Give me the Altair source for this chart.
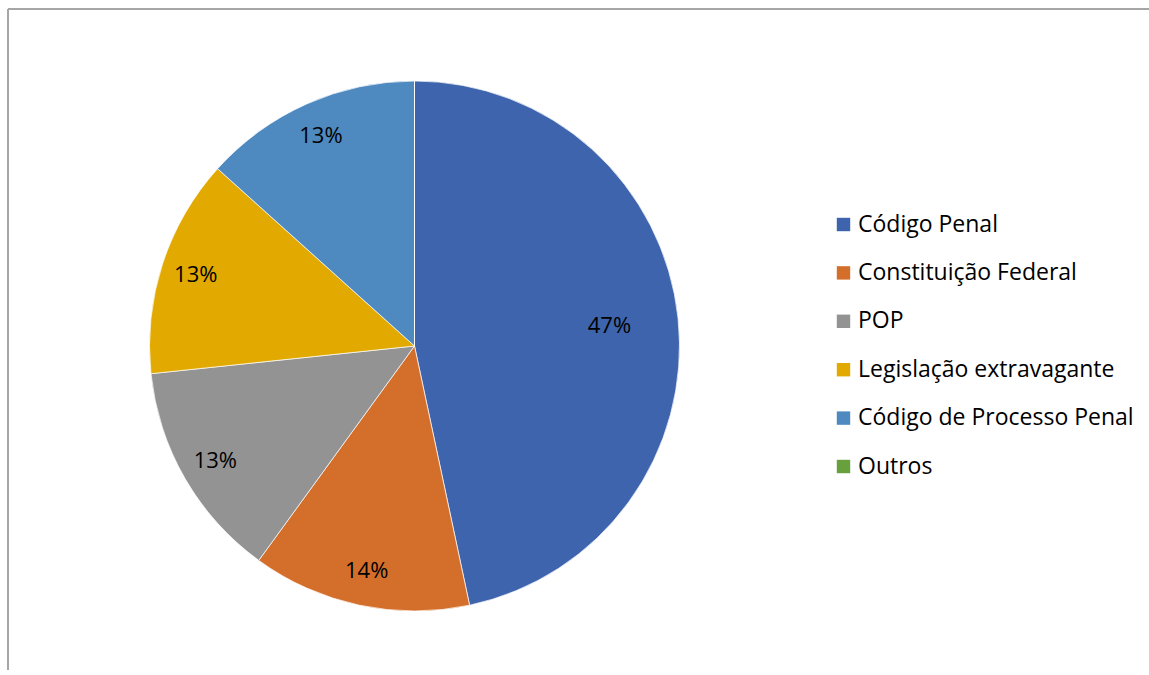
import altair as alt
import pandas as pd

categories = ["Código Penal", "Constituição Federal", "POP",
              "Legislação extravagante", "Código de Processo Penal", "Outros"]
values = [7, 2, 2, 2, 2, 0]
labels = ["47%", "14%", "13%", "13%", "13%", ""]
colors = ["#3D64AD", "#D36F2B", "#939393", "#E2AA00", "#4E8AC0", "#67A03C"]

df = pd.DataFrame({"cat": categories, "value": values, "label": labels,
                   "order": list(range(len(categories)))})

FONT = "Open Sans"
CX, CY = 406.5, 337
R = 265

base = alt.Chart(df).encode(
    theta=alt.Theta("value:Q", stack=True),
    order=alt.Order("order:Q"),
)

pie = base.mark_arc(outerRadius=R, stroke="white", strokeWidth=0.7).encode(
    x=alt.value(CX), y=alt.value(CY),
    color=alt.Color("cat:N", sort=categories,
                    scale=alt.Scale(domain=categories, range=colors),
                    legend=alt.Legend(title=None, orient="none",
                                      legendX=824, legendY=204,
                                      symbolType="square", symbolSize=180,
                                      symbolStrokeWidth=0,
                                      labelFont=FONT, labelFontSize=23,
                                      labelColor="#000000", labelOffset=3,
                                      rowPadding=24.4, padding=0,
                                      labelLimit=400)),
)

txt_outer = base.mark_text(radius=230, font=FONT, fontSize=22, color="#000000").encode(
    x=alt.value(CX), y=alt.value(CY), text="outer:N"
).transform_calculate(outer="datum.cat != 'Código Penal' ? datum.label : ''")

txt_inner = base.mark_text(radius=196, font=FONT, fontSize=22, color="#000000").encode(
    x=alt.value(CX), y=alt.value(CY), text="inner:N"
).transform_calculate(inner="datum.cat == 'Código Penal' ? datum.label : ''")

frame_top = alt.Chart(df).mark_rule(color="#A6A6A6", strokeWidth=1.5).encode(
    x=alt.value(0), x2=alt.value(1141), y=alt.value(0))
frame_left = alt.Chart(df).mark_rule(color="#A6A6A6", strokeWidth=1.5).encode(
    x=alt.value(0), y=alt.value(0), y2=alt.value(662))

chart = alt.layer(pie, txt_outer, txt_inner, frame_top, frame_left).properties(
    width=1141, height=661,
    padding={"left": 8, "top": 9, "right": 0, "bottom": 0},
    autosize=alt.AutoSizeParams(type="none"),
    background="white",
).configure_view(stroke=None)

chart.save("out.html", embed_options={"renderer": "svg", "actions": False})
